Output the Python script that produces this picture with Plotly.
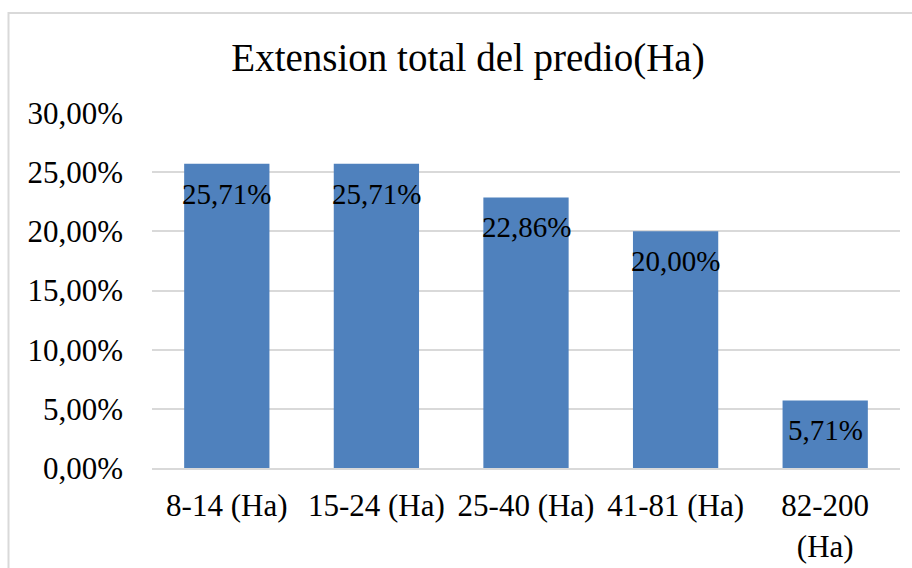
import plotly.graph_objects as go

# Farm size ranges and share of properties in each range
categories = ["8-14 (Ha)", "15-24 (Ha)", "25-40 (Ha)", "41-81 (Ha)", "82-200<br>(Ha)"]
shares = [0.2571, 0.2571, 0.2286, 0.2000, 0.0571]
y_ticks = [0.0, 0.05, 0.10, 0.15, 0.20, 0.25, 0.30]

FONT = "Liberation Serif, Times New Roman, serif"
BAR = "#4F81BD"
GRID = "#D9D9D9"

W, H = 912, 568
L, R, T, B = 152, 12, 113, 100

fig = go.Figure(
    go.Bar(
        x=categories,
        y=shares,
        marker=dict(color=BAR, line=dict(width=0)),
        hoverinfo="skip",
    )
)

# Value labels inside the top end of each bar
for cat, val in zip(categories, shares):
    fig.add_annotation(
        x=cat, y=val, xref="x", yref="y",
        text=f"{val * 100:.2f}%".replace(".", ","),
        showarrow=False, yanchor="top", yshift=-12,
        font=dict(family=FONT, size=29, color="#000000"),
    )

# Chart-area outline
pw, ph = W - L - R, H - T - B
fig.add_shape(
    type="rect", xref="paper", yref="paper",
    x0=(8.5 - L) / pw, x1=(W + 20 - L) / pw,
    y0=-(H + 20 - (H - B)) / ph, y1=(H - B - 13) / ph,
    line=dict(color=GRID, width=2), fillcolor="rgba(0,0,0,0)", layer="below",
)

fig.update_layout(
    width=W, height=H,
    margin=dict(l=L, r=R, t=T, b=B, autoexpand=False),
    paper_bgcolor="white", plot_bgcolor="white",
    separators=",.",
    bargap=0.43,
    showlegend=False,
    title=dict(
        text="Extension total del predio(Ha)",
        font=dict(family=FONT, size=39, color="#000000"),
        xref="container", yref="container",
        x=468 / W, y=1 - 57 / H, xanchor="center", yanchor="middle",
    ),
    xaxis=dict(
        showgrid=False, showline=True, linecolor=GRID, linewidth=2,
        ticks="", ticklabelstandoff=9,
        tickfont=dict(family=FONT, size=31, color="#000000"),
        fixedrange=True,
    ),
    yaxis=dict(
        range=[0, 0.30], tickvals=y_ticks, tickformat=".2%",
        showgrid=True, gridcolor=GRID, gridwidth=1.5,
        zeroline=False, showline=False, ticks="",
        ticklabelstandoff=28,
        tickfont=dict(family=FONT, size=31, color="#000000"),
        fixedrange=True,
    ),
)

fig.write_html("out.html")
